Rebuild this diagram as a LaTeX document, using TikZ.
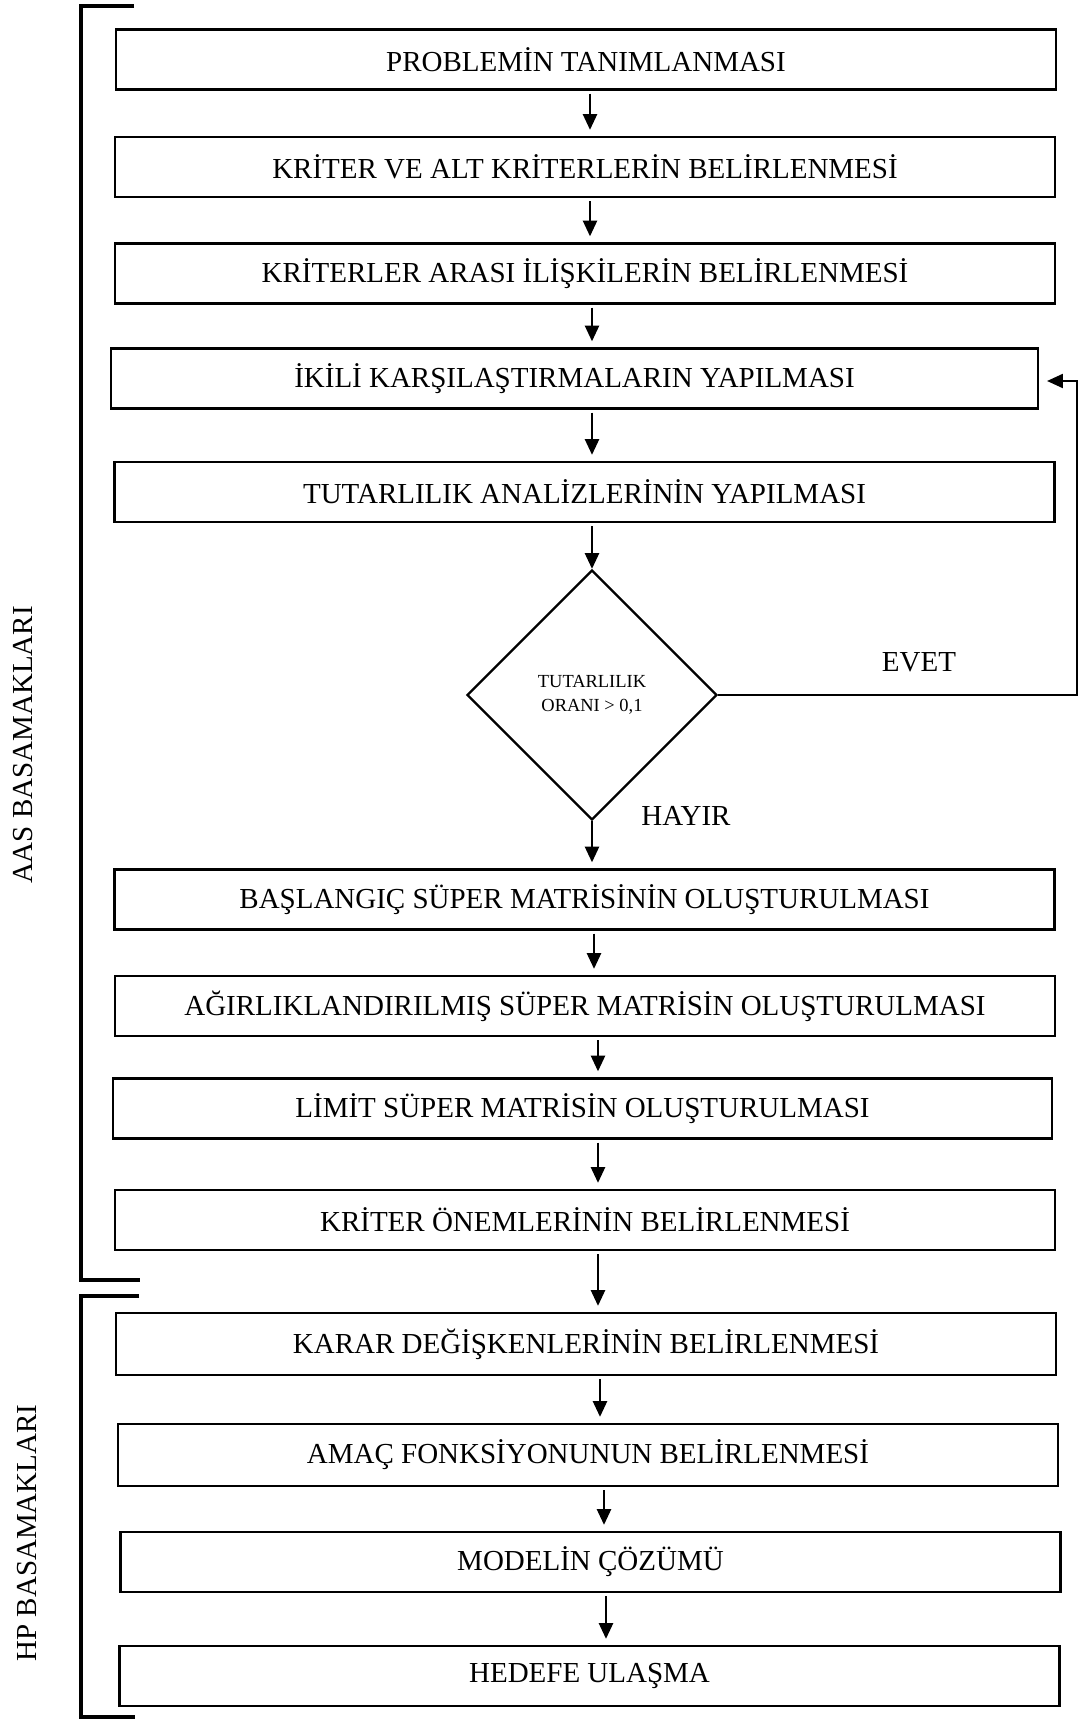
\documentclass[tikz,border=0pt]{standalone}
\usepackage{fontspec}
\setmainfont{Liberation Serif}
\usepackage{tikz}
\usetikzlibrary{arrows.meta,shapes,positioning}
\usetikzlibrary{shapes.geometric}
\tikzstyle{step box} = [rectangle, draw=black, line width=1.3pt, minimum width=18.8cm, minimum height=1.2cm, inner sep=0pt, text centered, font=\fontsize{16.5}{19}\selectfont]
\tikzstyle{decision} = [diamond, draw=black, line width=1.3pt, shape aspect=1, minimum size=5cm, inner sep=0pt, align=center, font=\fontsize{10.5}{14}\selectfont]
\tikzstyle{arrow} = [line width=1.4pt,-{Triangle[length=9pt,width=8pt]}, shorten <=0.06cm, shorten >=0.12cm]
\tikzstyle{bracket} = [line width=2.4pt]

\begin{document}
\begin{tikzpicture}[x=0.02cm, y=-0.02cm]
                    \useasboundingbox (0,0) rectangle (1080,1720);
                    % AAS steps
                    \node (Problem) [step box] at (586,59.5) {PROBLEMİN TANIMLANMASI};
                    \node (Kriter) [step box] at (585,167) {KRİTER VE ALT KRİTERLERİN BELİRLENMESİ};
                    \node (Iliski) [step box] at (585,273.5) {KRİTERLER ARASI İLİŞKİLERİN BELİRLENMESİ};
                    \node (Ikili) [step box, minimum width=18.54cm] at (574.5,378.5) {İKİLİ KARŞILAŞTIRMALARIN YAPILMASI};
                    \node (Tutarlilik) [step box] at (584.5,492) {TUTARLILIK ANALİZLERİNİN YAPILMASI};
                    \node (Oran) [decision] at (592,695) {TUTARLILIK\\ORANI > 0,1};
                    \node (Baslangic) [step box] at (584.5,899.5) {BAŞLANGIÇ SÜPER MATRİSİNİN OLUŞTURULMASI};
                    \node (Agirlik) [step box] at (585,1006) {AĞIRLIKLANDIRILMIŞ SÜPER MATRİSİN OLUŞTURULMASI};
                    \node (Limit) [step box, minimum width=18.78cm] at (582.5,1108.5) {LİMİT SÜPER MATRİSİN OLUŞTURULMASI};
                    \node (Onem) [step box] at (585,1220) {KRİTER ÖNEMLERİNİN BELİRLENMESİ};
                    % HP steps
                    \node (Karar) [step box, minimum height=1.24cm] at (586,1344) {KARAR DEĞİŞKENLERİNİN BELİRLENMESİ};
                    \node (Amac) [step box, minimum height=1.24cm] at (588,1455) {AMAÇ FONKSİYONUNUN BELİRLENMESİ};
                    \node (Model) [step box] at (590.5,1562) {MODELİN ÇÖZÜMÜ};
                    \node (Hedef) [step box] at (589.5,1676) {HEDEFE ULAŞMA};
                    \node (Evet) [font=\fontsize{16.5}{19}\selectfont] at (919,662) {EVET};
                    \node (Hayir) [font=\fontsize{16.5}{19}\selectfont] at (686,816) {HAYIR};
                    \node (AAS) [rotate=90, font=\fontsize{16.5}{19}\selectfont] at (23,745) {AAS BASAMAKLARI};
                    \node (HP) [rotate=90, font=\fontsize{16.5}{19}\selectfont] at (27,1533) {HP BASAMAKLARI};
                    \coordinate (fb) at (1077,381);
                    \draw [arrow] (Problem.south -| 590,0) -- (Kriter.north -| 590,0);
                    \draw [arrow] (Kriter.south -| 590,0) -- (Iliski.north -| 590,0);
                    \draw [arrow] (Iliski.south -| 592,0) -- (Ikili.north -| 592,0);
                    \draw [arrow] (Ikili.south -| 592,0) -- (Tutarlilik.north -| 592,0);
                    \draw [arrow, shorten >=0pt] (Tutarlilik.south -| 592,0) -- (Oran.north);
                    \draw [arrow, shorten <=0pt] (Oran.south) -- (Baslangic.north -| 592,0);
                    \draw [arrow] (Baslangic.south -| 594,0) -- (Agirlik.north -| 594,0);
                    \draw [arrow] (Agirlik.south -| 598,0) -- (Limit.north -| 598,0);
                    \draw [arrow] (Limit.south -| 598,0) -- (Onem.north -| 598,0);
                    \draw [arrow] (Onem.south -| 598,0) -- (Karar.north -| 598,0);
                    \draw [arrow] (Karar.south -| 600,0) -- (Amac.north -| 600,0);
                    \draw [arrow] (Amac.south -| 604,0) -- (Model.north -| 604,0);
                    \draw [arrow] (Model.south -| 606,0) -- (Hedef.north -| 606,0);
                    \draw [arrow, line width=1pt, shorten <=0pt, shorten >=0.16cm] (Oran.east) -| (fb) -- (fb -| Ikili.east);
                    % brackets
                    \draw [bracket] (134,6) -- (81,6) -- (81,1280) -- (140,1280);
                    \draw [bracket] (139,1296) -- (81,1296) -- (81,1717) -- (135,1717);
                \end{tikzpicture}
\end{document}
